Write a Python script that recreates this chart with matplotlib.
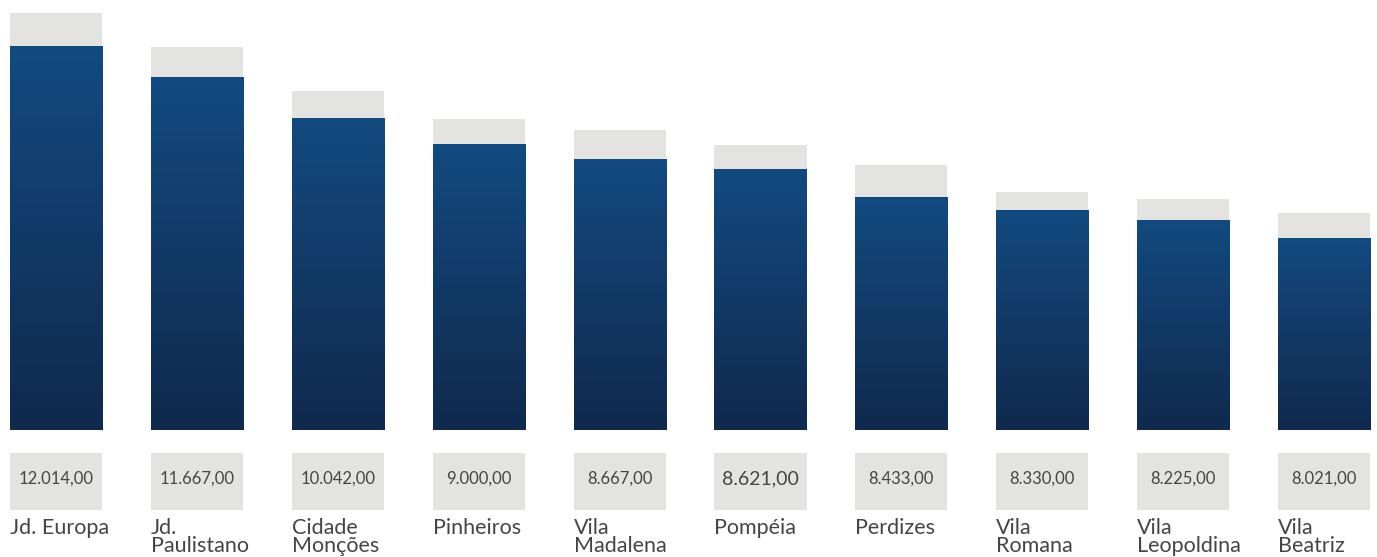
import numpy as np
import matplotlib
matplotlib.use("Agg")
import matplotlib.pyplot as plt
from matplotlib.colors import LinearSegmentedColormap

plt.rcParams['font.family'] = ['Lato', 'DejaVu Sans']

# Bairros, preço do m² e altura das barras (azul e faixa cinza de fundo).
bairros = ["Jd. Europa", "Jd.\nPaulistano", "Cidade\nMonções", "Pinheiros",
           "Vila\nMadalena", "Pompéia", "Perdizes", "Vila\nRomana",
           "Vila\nLeopoldina", "Vila\nBeatriz"]
precos = ["12.014,00", "11.667,00", "10.042,00", "9.000,00", "8.667,00",
          "8.621,00", "8.433,00", "8.330,00", "8.225,00", "8.021,00"]
barra_azul = [384, 353, 312, 286, 271, 261, 233, 220, 210, 192]
barra_cinza = [417, 383, 339, 311, 300, 285, 265, 238, 231, 217]

GREY = "#e3e3e2"
TEXT = "#454545"
grad = LinearSegmentedColormap.from_list("azul", ["#10294d", "#134a80"])

fig = plt.figure(figsize=(13.77, 5.57), dpi=100)
ax = fig.add_axes([0, 0, 1, 1])
ax.set_xlim(-0.397, 9.375)
ax.set_ylim(-127, 430)
ax.axis("off")

x = np.arange(len(bairros))
w = 0.653

# fundo cinza e barra azul com degradê vertical
ax.bar(x, barra_cinza, width=w, color=GREY, zorder=1)
g = np.linspace(0, 1, 256).reshape(-1, 1)
for xi, h in zip(x, barra_azul):
    ax.imshow(g, cmap=grad, origin="lower", aspect="auto", zorder=2,
              extent=(xi - w / 2, xi + w / 2, 0, h), interpolation="bilinear")

# caixas com os preços
ax.bar(x, 57, bottom=-80, width=w, color=GREY, zorder=1)
for xi, p in zip(x, precos):
    size = 14 if p == "8.621,00" else 12
    ax.text(xi, -49, p, ha="center", va="center", fontsize=size, color=TEXT)

# nomes dos bairros
for xi, b in zip(x, bairros):
    ax.text(xi - w / 2, -87.5, b, ha="left", va="top", fontsize=15.5,
            color=TEXT, linespacing=0.9)

fig.savefig("out.png", dpi=100)
